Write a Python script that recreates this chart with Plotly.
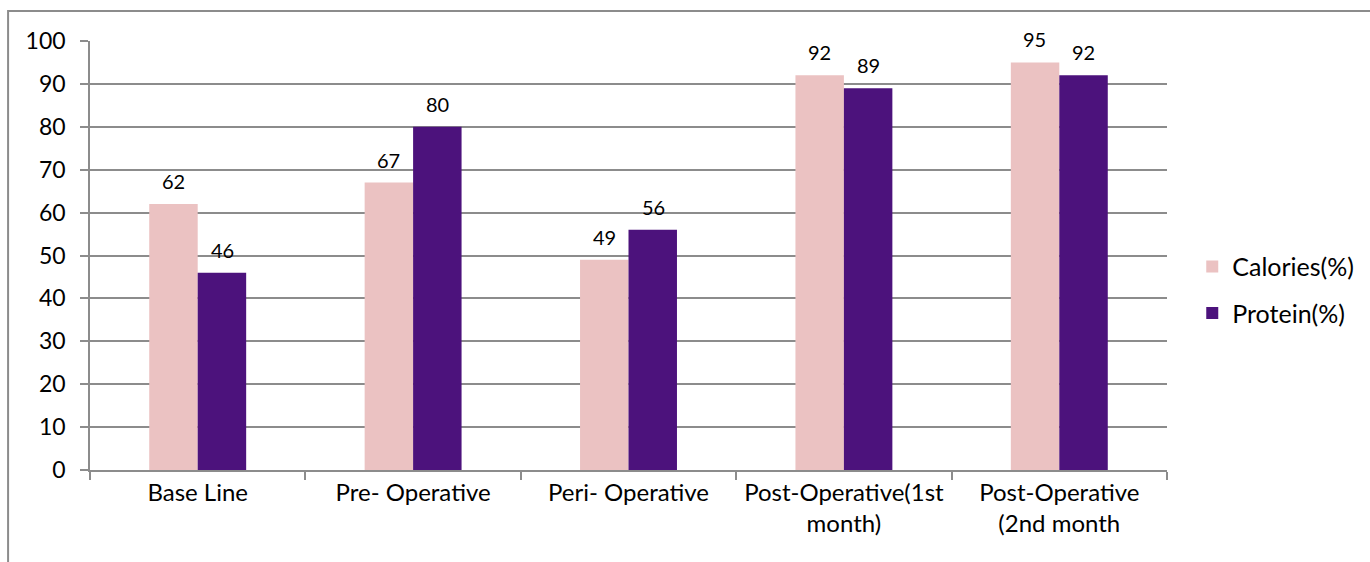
import plotly.graph_objects as go

categories = ["Base Line", "Pre- Operative", "Peri- Operative",
              "Post-Operative(1st<br>month)", "Post-Operative<br>(2nd month"]
calories = [62, 67, 49, 92, 95]
protein = [46, 80, 56, 89, 92]

FONT = "Lato, Calibri, Carlito, sans-serif"
GRID = "#8c8c8c"

fig = go.Figure()
fig.add_trace(go.Bar(name="Calories(%)", x=categories, y=calories, legendgroup="a",
                     marker=dict(color="#EBC2C2", line=dict(width=0))))
fig.add_trace(go.Bar(name="Protein(%)", x=categories, y=protein, legendgroup="b",
                     marker=dict(color="#4C127C", line=dict(width=0))))

for i, (c, p) in enumerate(zip(calories, protein)):
    fig.add_annotation(x=i, y=c, xshift=-24.5, yshift=23, text=str(c), showarrow=False,
                       font=dict(size=20, color="black", family=FONT))
    fig.add_annotation(x=i, y=p, xshift=24.5, yshift=23, text=str(p), showarrow=False,
                       font=dict(size=20, color="black", family=FONT))

fig.add_shape(type="rect", xref="paper", yref="paper",
              x0=(8 - 90) / 1078, x1=1.3, y0=-0.5, y1=(470 - 11) / 429,
              line=dict(color="#8c8c8c", width=2), fillcolor="rgba(0,0,0,0)", layer="below")

fig.update_layout(
    width=1370, height=562,
    margin=dict(l=90, r=202, t=41, b=92),
    plot_bgcolor="white", paper_bgcolor="white",
    barmode="group", bargap=0.55, bargroupgap=0,
    font=dict(family=FONT, size=24, color="black"),
    legend=dict(x=1.0225, y=0.42, yanchor="middle", xanchor="left",
                font=dict(size=25, family=FONT), tracegroupgap=11,
                bgcolor="rgba(0,0,0,0)"),
    showlegend=True,
)
fig.update_yaxes(range=[0, 100], dtick=10, showgrid=True, gridcolor=GRID, gridwidth=1.5,
                 showline=True, linecolor=GRID, linewidth=1.5,
                 ticks="outside", ticklen=8, tickcolor=GRID, tickwidth=1.5,
                 ticklabelstandoff=10,
                 tickfont=dict(size=23, family=FONT), zeroline=False, automargin=False)
fig.update_xaxes(showline=True, linecolor=GRID, linewidth=1.5,
                 ticks="outside", tickson="boundaries", ticklen=8, tickcolor=GRID, tickwidth=1.5,
                 tickfont=dict(size=24, family=FONT), tickangle=0, automargin=False)

fig.write_html("out.html", config={"displayModeBar": False},
               post_script="document.body.style.margin='0';")
